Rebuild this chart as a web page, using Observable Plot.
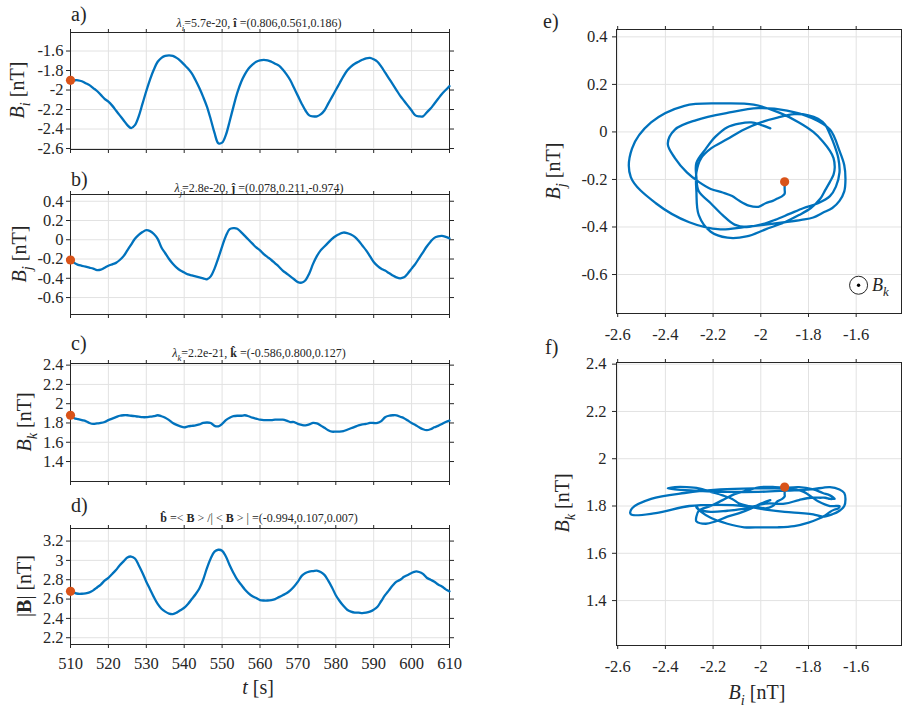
<!DOCTYPE html>
<html>
<head>
<meta charset="utf-8">
<script src="https://cdn.jsdelivr.net/npm/d3@7"></script>
<script src="https://cdn.jsdelivr.net/npm/@observablehq/plot@0.6"></script>
<style>
  body { margin: 0; background: #fff; }
  #fig { position: relative; width: 902px; height: 711px; overflow: hidden; background: #fff; }
  #fig > svg { position: absolute; }
  #fig svg, #fig svg text, #fig svg tspan { font-family: "Liberation Serif", "Times New Roman", "DejaVu Serif", serif !important; }
</style>
</head>
<body>
<div id="fig"></div>
<script>
// ---------------- data ----------------
const t = d3.range(510, 611); // time [s], 1 s sampling

const Bi = [-1.90,-1.90,-1.90,-1.91,-1.93,-1.95,-1.98,-2.01,-2.05,-2.09,
  -2.12,-2.16,-2.21,-2.26,-2.31,-2.36,-2.39,-2.36,-2.27,-2.14,
  -2.01,-1.89,-1.79,-1.71,-1.67,-1.65,-1.645,-1.65,-1.67,-1.70,
  -1.74,-1.78,-1.83,-1.90,-1.98,-2.07,-2.17,-2.30,-2.44,-2.545,
  -2.54,-2.46,-2.32,-2.17,-2.03,-1.92,-1.84,-1.78,-1.74,-1.71,
  -1.695,-1.69,-1.695,-1.71,-1.73,-1.75,-1.79,-1.84,-1.90,-1.98,
  -2.06,-2.14,-2.21,-2.26,-2.27,-2.27,-2.25,-2.21,-2.14,-2.07,
  -2.00,-1.93,-1.86,-1.80,-1.76,-1.73,-1.71,-1.69,-1.675,-1.67,
  -1.685,-1.71,-1.76,-1.82,-1.88,-1.94,-2.00,-2.06,-2.11,-2.16,
  -2.21,-2.26,-2.27,-2.27,-2.23,-2.19,-2.14,-2.09,-2.04,-2.00,
  -1.96];

const Bj = [-0.21,-0.24,-0.26,-0.27,-0.28,-0.29,-0.30,-0.315,-0.31,-0.29,
  -0.27,-0.255,-0.24,-0.21,-0.17,-0.11,-0.05,0.01,0.05,0.08,
  0.10,0.09,0.06,0.01,-0.08,-0.14,-0.20,-0.25,-0.29,-0.32,
  -0.34,-0.36,-0.37,-0.38,-0.39,-0.40,-0.41,-0.38,-0.30,-0.19,
  -0.07,0.04,0.11,0.12,0.115,0.08,0.04,0.00,-0.04,-0.08,
  -0.11,-0.15,-0.18,-0.21,-0.245,-0.28,-0.32,-0.35,-0.38,-0.41,
  -0.44,-0.445,-0.42,-0.35,-0.25,-0.17,-0.11,-0.07,-0.03,0.01,
  0.04,0.06,0.075,0.07,0.055,0.03,-0.01,-0.06,-0.11,-0.17,
  -0.23,-0.27,-0.30,-0.32,-0.345,-0.37,-0.39,-0.40,-0.39,-0.35,
  -0.30,-0.25,-0.19,-0.13,-0.07,-0.02,0.02,0.035,0.04,0.03,
  0.015];

const Bk = [1.88,1.85,1.84,1.83,1.82,1.80,1.79,1.795,1.80,1.81,
  1.83,1.845,1.86,1.875,1.88,1.88,1.875,1.87,1.865,1.86,
  1.86,1.865,1.87,1.88,1.87,1.855,1.83,1.80,1.78,1.765,
  1.755,1.765,1.77,1.775,1.785,1.80,1.805,1.80,1.77,1.765,
  1.79,1.83,1.855,1.87,1.875,1.875,1.88,1.87,1.855,1.845,
  1.835,1.83,1.83,1.83,1.835,1.835,1.835,1.825,1.81,1.81,
  1.79,1.78,1.775,1.785,1.80,1.795,1.775,1.75,1.725,1.71,
  1.71,1.71,1.715,1.73,1.745,1.76,1.775,1.785,1.79,1.80,
  1.80,1.80,1.82,1.86,1.875,1.88,1.88,1.865,1.85,1.825,
  1.80,1.78,1.755,1.735,1.725,1.735,1.755,1.77,1.79,1.81,
  1.825];

const Bmag = [2.68,2.665,2.655,2.655,2.66,2.67,2.69,2.72,2.75,2.79,
  2.82,2.86,2.90,2.95,2.99,3.03,3.04,3.02,2.95,2.87,
  2.78,2.70,2.62,2.55,2.50,2.47,2.45,2.445,2.46,2.485,
  2.51,2.55,2.60,2.65,2.71,2.80,2.92,3.02,3.09,3.11,
  3.10,3.04,2.95,2.87,2.80,2.75,2.70,2.66,2.63,2.61,
  2.59,2.585,2.585,2.59,2.60,2.62,2.64,2.66,2.69,2.73,
  2.78,2.84,2.87,2.885,2.89,2.895,2.88,2.85,2.79,2.72,
  2.64,2.58,2.53,2.49,2.47,2.46,2.46,2.455,2.46,2.47,
  2.49,2.52,2.58,2.64,2.69,2.74,2.78,2.80,2.83,2.85,
  2.87,2.885,2.88,2.86,2.82,2.80,2.78,2.75,2.73,2.70,
  2.68];

// tick values
const tTicks  = [510,520,530,540,550,560,570,580,590,600,610];
const biTicks = [-2.6,-2.4,-2.2,-2,-1.8,-1.6];
const bjTicks = [-0.6,-0.4,-0.2,0,0.2,0.4];
const bkTicks = [1.4,1.6,1.8,2,2.2,2.4];
const bmTicks = [2.2,2.4,2.6,2.8,3,3.2];

// annotation (B_k out of plane symbol) in panel e, data coords
const bkSymbol = [{x: -1.59, y: -0.645}];

// ---------------- styling ----------------
const FONT = '"Liberation Serif","Times New Roman","DejaVu Serif",serif';
const AX = "#262626";
const GRID = "#e2e2e2";
const BLUE = "#0072BD";
const ORANGE = "#D95319";
const fmt = d => String(+(+d).toFixed(3));
const blank = () => "";

const fig = document.getElementById("fig");

function panel(o) {
  const rows = t.map((tt, i) => ({x: o.xv[i], y: o.yv[i]}));
  const svg = Plot.plot({
    width: o.w, height: o.h,
    marginLeft: o.ml, marginRight: o.mr, marginTop: o.mt, marginBottom: o.mb,
    style: {fontFamily: FONT, fontSize: "16.5px", color: AX, background: "transparent", overflow: "visible"},
    x: {domain: o.xd},
    y: {domain: o.yd},
    marks: [
      Plot.gridX(o.xt, {stroke: GRID, strokeOpacity: 1, strokeWidth: 1}),
      Plot.gridY(o.yt, {stroke: GRID, strokeOpacity: 1, strokeWidth: 1}),
      Plot.axisX(o.xt, {anchor: "bottom", tickSize: 4, tickPadding: o.xpad || 3, tickFormat: o.xlab ? fmt : blank, label: null, fontSize: 16.5}),
      Plot.axisX(o.xt, {anchor: "top", tickSize: 4, tickFormat: blank, label: null}),
      Plot.axisY(o.yt, {anchor: "left", tickSize: 4, tickPadding: o.ypad || 3, tickFormat: fmt, label: null, fontSize: 16.5}),
      Plot.axisY(o.yt, {anchor: "right", tickSize: 4, tickFormat: blank, label: null}),
      Plot.frame({stroke: AX, strokeWidth: 1}),
      Plot.line(rows, {x: "x", y: "y", curve: o.curve, stroke: BLUE, strokeWidth: 2.3, strokeLinejoin: "round"}),
      Plot.dot(rows.slice(0, 1), {x: "x", y: "y", r: 4.6, fill: ORANGE, stroke: null}),
      ...(o.extra || [])
    ]
  });
  svg.style.left = o.left + "px";
  svg.style.top = o.top + "px";
  fig.appendChild(svg);
}

// left column: time series
panel({left: 0, top: 0,   w: 460, h: 160, ml: 70, mr: 11, mt: 32, mb: 11,
  xd: [510, 610], yd: [-2.61, -1.41], xt: tTicks, yt: biTicks, xv: t, yv: Bi, curve: "catmull-rom"});
panel({left: 0, top: 160, w: 460, h: 160, ml: 70, mr: 11, mt: 34, mb: 6,
  xd: [510, 610], yd: [-0.776, 0.47], xt: tTicks, yt: bjTicks, xv: t, yv: Bj, curve: "catmull-rom"});
panel({left: 0, top: 320, w: 460, h: 165, ml: 70, mr: 11, mt: 43, mb: 4,
  xd: [510, 610], yd: [1.193, 2.417], xt: tTicks, yt: bkTicks, xv: t, yv: Bk, curve: "catmull-rom"});
panel({left: 0, top: 485, w: 460, h: 226, ml: 70, mr: 11, mt: 43, mb: 67,
  xd: [510, 610], yd: [2.13, 3.33], xt: tTicks, yt: bmTicks, xv: t, yv: Bmag, curve: "catmull-rom",
  xlab: true, xpad: 9});

// right column: hodograms
panel({left: 530, top: 0, w: 372, h: 345, ml: 86, mr: 1, mt: 29, mb: 32,
  xd: [-2.605, -1.41], yd: [-0.764, 0.431], xt: biTicks, yt: bjTicks, xv: Bi, yv: Bj, curve: "catmull-rom",
  xlab: true, xpad: 11, ypad: 5,
  extra: [
    Plot.dot(bkSymbol, {x: "x", y: "y", r: 9, stroke: AX, strokeWidth: 1, fill: "white"}),
    Plot.dot(bkSymbol, {x: "x", y: "y", r: 1.7, fill: "#000", stroke: null})
  ]});
panel({left: 530, top: 345, w: 372, h: 366, ml: 86, mr: 1, mt: 17, mb: 66,
  xd: [-2.605, -1.41], yd: [1.21, 2.407], xt: biTicks, yt: bkTicks, xv: Bi, yv: Bk, curve: "catmull-rom",
  xlab: true, xpad: 11, ypad: 6});

// ---------------- overlay text (labels, titles) ----------------
const ov = d3.select(fig).append("svg")
  .attr("width", 902).attr("height", 711)
  .style("left", "0px").style("top", "0px").style("pointer-events", "none").style("overflow", "visible");

function rich(x, y, parts, size, opts = {}) {
  const el = ov.append("text")
    .attr("x", x).attr("y", y)
    .attr("font-size", size)
    .attr("font-family", FONT)
    .attr("fill", AX)
    .attr("text-anchor", opts.anchor || "middle");
  if (opts.rotate) el.attr("transform", `rotate(${opts.rotate},${x},${y})`);
  let shifted = 0;
  for (const p of parts) {
    const ts = el.append("tspan").text(p.t);
    const want = p.s ? size * 0.3 : 0;
    if (want !== shifted) { ts.attr("dy", want - shifted); shifted = want; }
    if (p.s) ts.attr("font-size", size * 0.72);
    if (p.i) ts.attr("font-style", "italic");
    if (p.b) ts.attr("font-weight", "bold");
  }
}

// panel letters
rich(71, 21, [{t: "a)"}], 20, {anchor: "start"});
rich(71, 186, [{t: "b)"}], 20, {anchor: "start"});
rich(71, 350, [{t: "c)"}], 20, {anchor: "start"});
rich(71, 512, [{t: "d)"}], 20, {anchor: "start"});
rich(543, 28, [{t: "e)"}], 20, {anchor: "start"});
rich(545, 354, [{t: "f)"}], 20, {anchor: "start"});

// subtitles
rich(259, 27, [{t: "λ", i: true}, {t: "i", i: true, s: true}, {t: "=5.7e-20, "}, {t: "î", b: true}, {t: " =(0.806,0.561,0.186)"}], 12);
rich(259, 192, [{t: "λ", i: true}, {t: "j", i: true, s: true}, {t: "=2.8e-20, "}, {t: "ĵ", b: true}, {t: " =(0.078,0.211,-0.974)"}], 12);
rich(259, 357, [{t: "λ", i: true}, {t: "k", i: true, s: true}, {t: "=2.2e-21, "}, {t: "k̂", b: true}, {t: " =(-0.586,0.800,0.127)"}], 12);
rich(259, 522, [{t: "b̂", b: true}, {t: " =< "}, {t: "B", b: true}, {t: " > /| < "}, {t: "B", b: true}, {t: " > | =(-0.994,0.107,0.007)"}], 12);

// y labels
const nT = {t: " [nT]"};
rich(24, 90,  [{t: "B", i: true}, {t: "i", i: true, s: true}, nT], 20, {rotate: -90});
rich(26, 254, [{t: "B", i: true}, {t: "j", i: true, s: true}, nT], 20, {rotate: -90});
rich(31, 422, [{t: "B", i: true}, {t: "k", i: true, s: true}, nT], 20, {rotate: -90});
rich(31, 586, [{t: "|"}, {t: "B", b: true}, {t: "|"}, nT], 20, {rotate: -90});
rich(560, 171, [{t: "B", i: true}, {t: "j", i: true, s: true}, nT], 20, {rotate: -90});
rich(569, 503, [{t: "B", i: true}, {t: "k", i: true, s: true}, nT], 20, {rotate: -90});

// x labels
rich(258, 694, [{t: "t", i: true}, {t: " [s]"}], 20);
rich(757, 699, [{t: "B", i: true}, {t: "i", i: true, s: true}, nT], 20);

// B_k out-of-plane label next to the symbol
rich(872, 291, [{t: "B", i: true}, {t: "k", i: true, s: true}], 18, {anchor: "start"});
</script>
</body>
</html>
